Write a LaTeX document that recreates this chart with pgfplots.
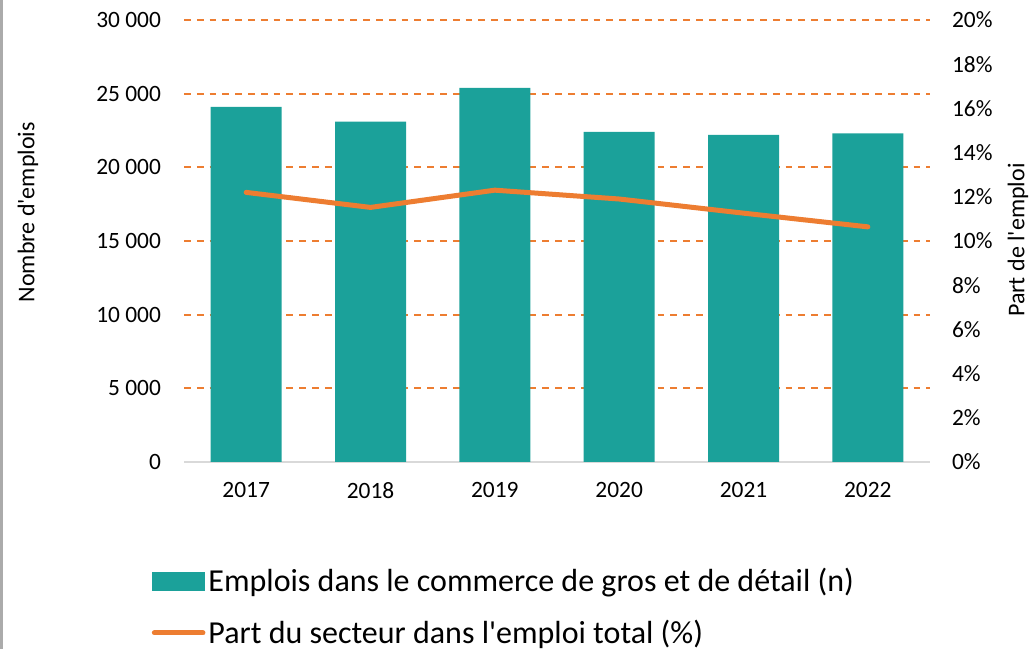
\documentclass[border=0pt]{standalone}
\usepackage{fontspec}
\setmainfont{Carlito}
\usepackage{pgfplots}
\pgfplotsset{compat=1.18}
\definecolor{barteal}{RGB}{27,161,154}
\definecolor{lineorange}{RGB}{237,125,49}
\definecolor{axisgray}{RGB}{217,217,217}
\definecolor{bordergray}{RGB}{171,171,171}

\begin{document}
\begin{tikzpicture}
\useasboundingbox (0,0) rectangle (518bp,324.5bp);
\draw[draw=bordergray, line width=1.5bp] (0.75bp,0) -- (0.75bp,324.5bp);
\begin{axis}[
  at={(92bp,93.5bp)}, anchor=south west,
  scale only axis, width=373bp, height=221bp,
  xmin=-0.5, xmax=5.5, ymin=0, ymax=30000,
  ybar, bar width=35.5bp,
  axis x line*=bottom, axis y line*=left,
  x axis line style={draw=axisgray, line width=1bp},
  y axis line style={draw=none},
  xtick={0,1,2,3,4,5},
  xticklabels={2017,2018,2019,2020,2021,2022},
  ytick={5000,10000,15000,20000,25000,30000},
  yticklabels={5~000,10~000,15~000,20~000,25~000,30~000},
  extra y ticks={0}, extra y tick labels={0},
  extra y tick style={grid=none},
  major tick length=0pt,
  ymajorgrids,
  grid style={draw=lineorange, line width=1bp, dash pattern=on 3.4bp off 3bp},
  tick label style={font=\fontsize{11.7bp}{14bp}\selectfont, text=black},
  yticklabel style={xshift=-8bp},
  xticklabel style={yshift=-6.5bp},
  ylabel={Nombre d\textquotesingle emplois},
  ylabel style={at={(axis description cs:-0.209,0.565)}, anchor=center, font=\fontsize{12bp}{14bp}\selectfont},
  scaled y ticks=false,
]
\addplot[fill=barteal, draw=none] coordinates {(0,24100) (1,23100) (2,25400) (3,22400) (4,22200) (5,22300)};
\end{axis}
\begin{axis}[
  at={(92bp,93.5bp)}, anchor=south west,
  scale only axis, width=373bp, height=221bp,
  xmin=-0.5, xmax=5.5, ymin=0, ymax=20,
  axis y line*=right, axis x line=none,
  y axis line style={draw=none},
  ytick={0,2,4,6,8,10,12,14,16,18,20},
  yticklabels={0\%,2\%,4\%,6\%,8\%,10\%,12\%,14\%,16\%,18\%,20\%},
  major tick length=0pt,
  tick label style={font=\fontsize{11.7bp}{14bp}\selectfont, text=black},
  yticklabel style={xshift=7.5bp},
  ylabel={Part de l\textquotesingle emploi},
  ylabel style={at={(axis description cs:1.118,0.502)}, anchor=center, font=\fontsize{12bp}{14bp}\selectfont},
  legend cell align=left,
  legend style={at={(axis description cs:-0.044,-0.233)}, anchor=north west, draw=none, fill=none,
    font=\fontsize{16bp}{18bp}\selectfont, row sep=9.5bp, inner sep=0pt,
    nodes={inner sep=1.5bp}},
]
\addlegendimage{legend image code/.code={\fill[barteal] (0bp,-4.5bp) rectangle (26bp,4.5bp);}}
\addlegendentry{Emplois dans le commerce de gros et de détail (n)}
\addplot[draw=lineorange, line width=2.5bp, line cap=round, line join=round, mark=none,
  legend image code/.code={\draw[lineorange, line width=2.5bp, line cap=round] (1.2bp,0bp) -- (25.5bp,0bp);}]
  coordinates {(0,12.20) (1,11.52) (2,12.30) (3,11.90) (4,11.26) (5,10.64)};
\addlegendentry{Part du secteur dans l\textquotesingle emploi total (\%)}
\end{axis}
\end{tikzpicture}
\end{document}
